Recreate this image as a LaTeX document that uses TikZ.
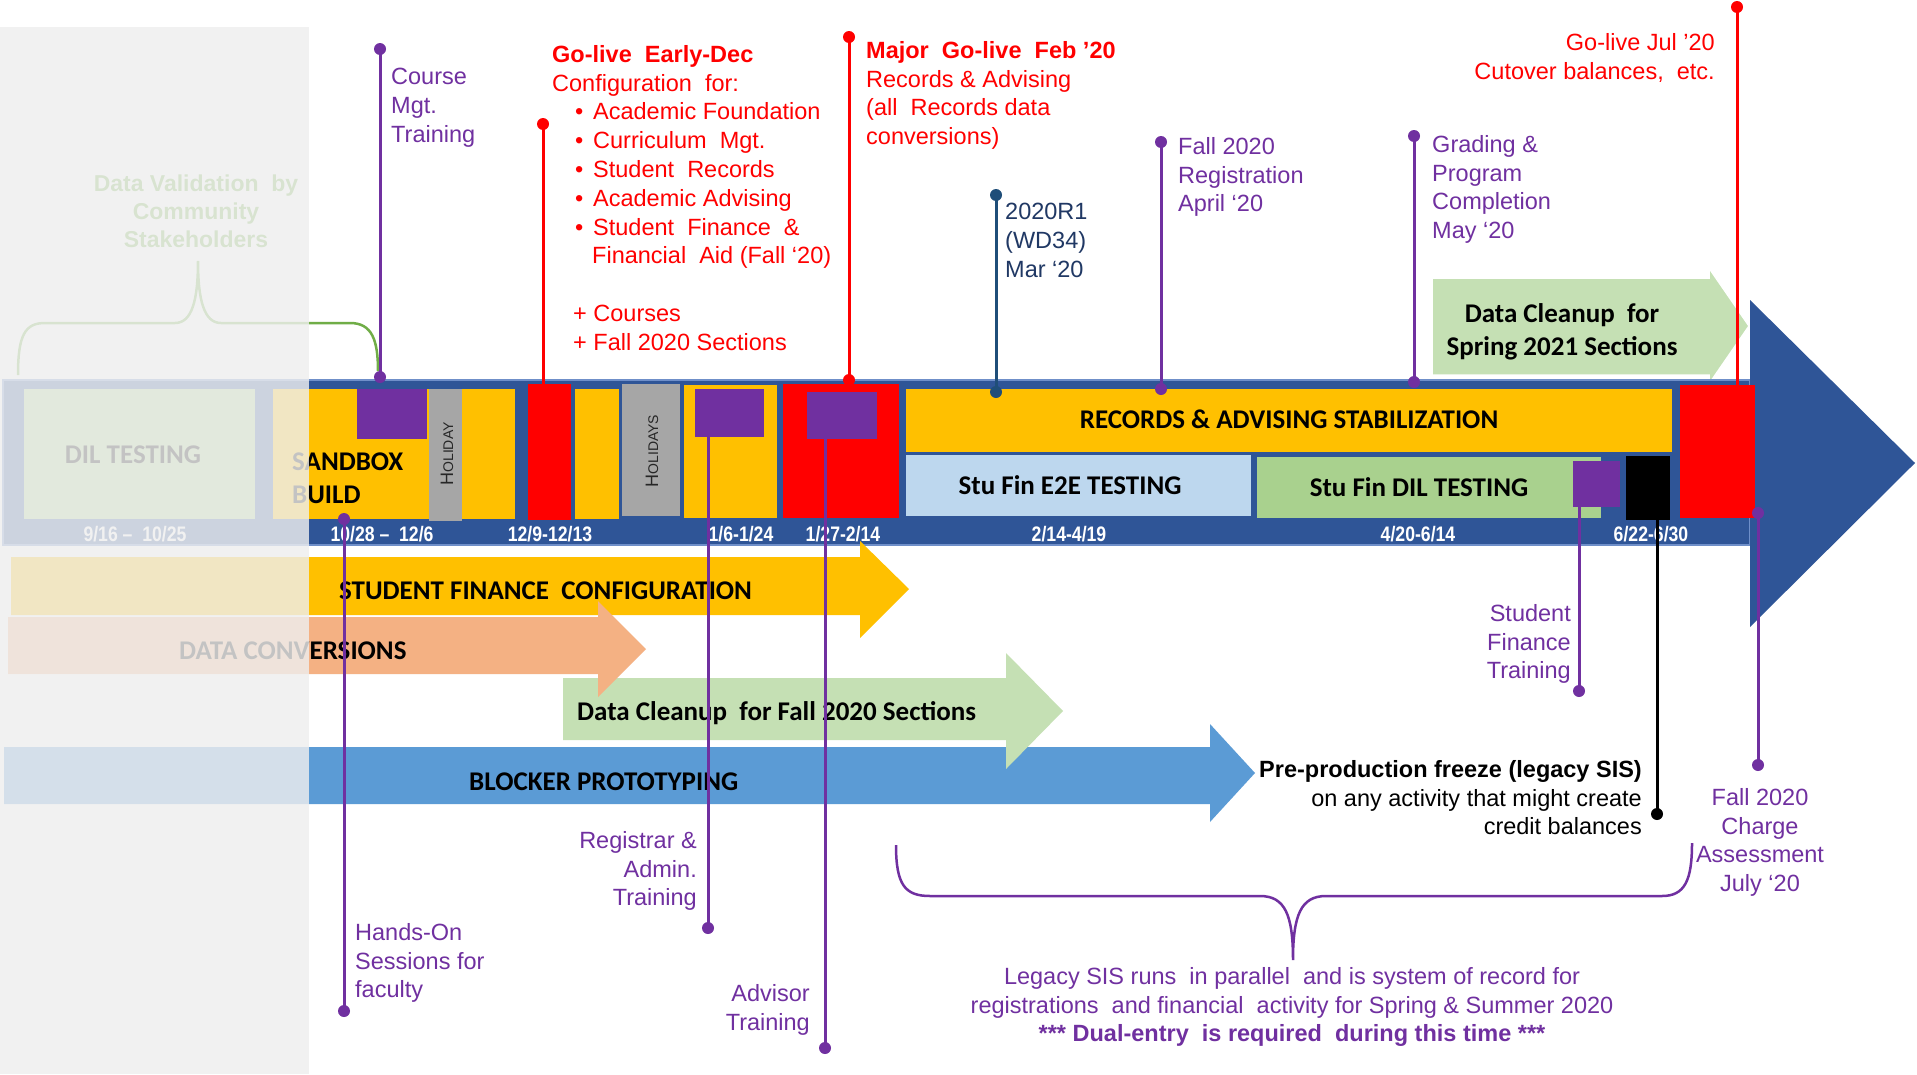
\documentclass[tikz,border=0pt]{standalone}
\usepackage{fontspec}
\setmainfont{Liberation Sans}
\newfontfamily\carlito{Carlito}
\newfontfamily\datefont[FakeStretch=0.84]{Liberation Sans}
\definecolor{band}{HTML}{2F5597}
\definecolor{bandedge}{HTML}{6F8FC9}
\definecolor{gold}{HTML}{FFC000}
\definecolor{pur}{HTML}{7030A0}
\definecolor{hol}{HTML}{A6A6A6}
\definecolor{ltblue}{HTML}{BDD7EE}
\definecolor{ltgreen}{HTML}{A9D18E}
\definecolor{cleanup}{HTML}{C5E0B4}
\definecolor{salmon}{HTML}{F4B183}
\definecolor{blocker}{HTML}{5B9BD5}
\definecolor{navy}{HTML}{1F4E79}
\definecolor{navytext}{HTML}{203864}
\definecolor{brgreen}{HTML}{70AD47}
\definecolor{fade}{HTML}{EFEFEF}
\definecolor{holtext}{HTML}{262626}
\newcommand{\mybul}{\hspace*{23pt}\makebox[18pt][l]{•}}
\begin{document}
\begin{tikzpicture}[x=1pt,y=-1pt,
  lbl/.style={font=\fontsize{23.5}{28.8}\selectfont, inner sep=0pt},
  plbl/.style={lbl, text=pur},
  barlbl/.style={font=\carlito\bfseries\fontsize{27}{33}\selectfont, inner sep=0pt},
  datelbl/.style={font=\datefont\bfseries\fontsize{21}{24}\selectfont, text=white, inner sep=0pt, anchor=base},
  pin/.style={line width=3pt},
  dot/.style={circle, inner sep=0pt, minimum size=12pt, fill},
  holl/.style={rotate=90, inner sep=0pt, text=holtext}]
\useasboundingbox (0,0) rectangle (1917,1074);
\fill[white] (0,0) rectangle (1917,1074);

% data validation brace
\draw[brgreen, line width=2.5pt] (18,375) .. controls (18,335) and (25,323) .. (45,323) -- (175,323)
  .. controls (192,323) and (198,300) .. (198,261) .. controls (198,300) and (204,323) .. (221,323)
  -- (350,323) .. controls (372,323) and (378,340) .. (378,371);
\node[lbl, font=\bfseries\fontsize{23}{28}\selectfont, text=brgreen, anchor=north, align=center] (dval) at (196,175) {Data Validation\ \ by\\Community\\Stakeholders};

% spring cleanup arrow
\fill[cleanup, draw=white, line width=1.5pt] (1432,278) -- (1709,278) -- (1709,268) -- (1749,326) -- (1709,384) -- (1709,375) -- (1432,375) -- cycle;
\node[barlbl, anchor=north, align=center] (spr) at (1562,303) {Data Cleanup\ \ for\\Spring 2021 Sections};

% timeline band
\fill[band, draw=bandedge, line width=1.2pt] (3,380) rectangle (1750,545);
\fill[band] (1750,300) -- (1915,463) -- (1750,627) -- cycle;

% band boxes
\fill[ltgreen] (24,389) rectangle (255,519);
\fill[gold] (273,389) rectangle (515,519);
\fill[pur] (357,389) rectangle (427,439);
\fill[hol] (429,389) rectangle (462,521);
\fill[red] (528,384) rectangle (571,520);
\fill[gold] (575,389) rectangle (619,519);
\fill[hol] (622,384) rectangle (680,516);
\fill[gold] (684,385) rectangle (777,518);
\fill[pur] (695,389) rectangle (764,437);
\fill[red] (783,384) rectangle (899,518);
\fill[pur] (807,392) rectangle (877,439);
\fill[gold] (906,389) rectangle (1672,452);
\fill[ltblue] (906,455) rectangle (1251,516);
\fill[ltgreen] (1257,457) rectangle (1601,518);
\fill[pur] (1573,461) rectangle (1620,507);
\fill[black] (1626,456) rectangle (1670,520);
\fill[red] (1680,385) rectangle (1755,518);

% band labels
\node[barlbl, anchor=base] (dil) at (133,463) {DIL TESTING};
\node[barlbl, anchor=north west, align=left] (sbx) at (292,453) {SANDBOX\\BUILD};
\node[holl] (hol1) at (447,454) {\fontsize{18}{18}\selectfont H\fontsize{14}{14}\selectfont OLIDAY};
\node[holl] (hol2) at (652,451) {\fontsize{18}{18}\selectfont H\fontsize{14}{14}\selectfont OLIDAYS};
\node[barlbl, anchor=base] (rec) at (1289,428) {RECORDS \& ADVISING STABILIZATION};
\node[barlbl, anchor=base] (e2e) at (1070,494) {Stu Fin E2E TESTING};
\node[barlbl, anchor=base] (sdil) at (1419,496) {Stu Fin DIL TESTING};

% dates
\node[datelbl] (d1) at (135,541) {9/16 –\ \ 10/25};
\node[datelbl] (d2) at (382,541) {10/28 –\ \ 12/6};
\node[datelbl] (d3) at (550,541) {12/9-12/13};
\node[datelbl] (d4) at (741,541) {1/6-1/24};
\node[datelbl] (d5) at (843,541) {1/27-2/14};
\node[datelbl] (d6) at (1069,541) {2/14-4/19};
\node[datelbl] (d7) at (1418,541) {4/20-6/14};
\node[datelbl] (d8) at (1651,541) {6/22-6/30};

% work-stream arrows
\fill[blocker] (4,747) -- (1210,747) -- (1210,724) -- (1255,773) -- (1210,822) -- (1210,804) -- (4,804) -- cycle;
\node[barlbl, anchor=base west] (blk) at (469,790) {BLOCKER PROTOTYPING};
\fill[cleanup] (563,678) -- (1006,678) -- (1006,653) -- (1063,711) -- (1006,769) -- (1006,740) -- (563,740) -- cycle;
\node[barlbl, anchor=base west] (fall) at (577,720) {Data Cleanup\ \ for Fall 2020 Sections};
\fill[gold] (11,557) -- (860,557) -- (860,541) -- (909,589) -- (860,638) -- (860,615) -- (11,615) -- cycle;
\node[barlbl, anchor=base west] (sfc) at (339,599) {STUDENT FINANCE\ \ CONFIGURATION};
\fill[salmon] (8,617) -- (598,617) -- (598,601) -- (646,649) -- (598,697) -- (598,674) -- (8,674) -- cycle;
\node[barlbl, anchor=base west] (dconv) at (179,659) {DATA CONVERSIONS};

% fade overlay on the past
\fill[fade, opacity=0.82] (0,27) rectangle (309,1074);

% milestones above the band
\node[dot, pur] (cm1) at (380,49) {};
\node[dot, pur] (cm2) at (380,377) {};
\draw[pin, pur] (cm1.center) -- (cm2.center);
\node[plbl, anchor=north west, align=left] (cmt) at (391,68) {Course\\Mgt.\\Training};

\node[dot, red] (ed1) at (543,124) {};
\coordinate (ed2) at (543,386);
\draw[pin, red] (ed1.center) -- (ed2);
\node[lbl, text=red, anchor=north west, align=left] (edt) at (552,45) {\textbf{Go-live\ \ Early-Dec}\\
Configuration\ \ for:\\
\mybul Academic Foundation\\
\mybul Curriculum\ \ Mgt.\\
\mybul Student\ \ Records\\
\mybul Academic Advising\\
\mybul Student\ \ Finance\ \ \&\\
\hspace*{40pt}Financial\ \ Aid (Fall ‘20)\\[28.8pt]
\hspace*{21pt}+ Courses\\
\hspace*{21pt}+ Fall 2020 Sections};

\node[dot, red] (mj1) at (849,37) {};
\node[dot, red] (mj2) at (849,380) {};
\draw[pin, red] (mj1.center) -- (mj2.center);
\node[lbl, text=red, anchor=north west, align=left] (mjt) at (866,41) {\textbf{Major\ \ Go-live\ \ Feb ’20}\\Records \& Advising\\(all\ \ Records data\\conversions)};

\node[dot, navy] (r1) at (996,195) {};
\node[dot, navy] (r2) at (996,392) {};
\draw[pin, navy] (r1.center) -- (r2.center);
\node[lbl, text=navytext, anchor=north west, align=left] (rt) at (1005,203) {2020R1\\(WD34)\\Mar ‘20};

\node[dot, pur] (fr1) at (1161,142) {};
\node[dot, pur] (fr2) at (1161,389) {};
\draw[pin, pur] (fr1.center) -- (fr2.center);
\node[plbl, anchor=north west, align=left] (frt) at (1178,137) {Fall 2020\\Registration\\April ‘20};

\node[dot, pur] (gr1) at (1414,136) {};
\node[dot, pur] (gr2) at (1414,382) {};
\draw[pin, pur] (gr1.center) -- (gr2.center);
\node[plbl, anchor=north west, align=left] (grt) at (1432,135) {Grading \&\\Program\\Completion\\May ‘20};

\node[dot, red] (jl1) at (1737,7) {};
\coordinate (jl2) at (1737,387);
\draw[pin, red] (jl1.center) -- (jl2);
\node[lbl, text=red, anchor=north east, align=right] (jlt) at (1715,33) {Go-live Jul ’20\\Cutover balances,\ \ etc.};

% milestones below the band
\node[dot, pur] (ho1) at (344,519) {};
\node[dot, pur] (ho2) at (344,1011) {};
\draw[pin, pur] (ho1.center) -- (ho2.center);
\node[plbl, anchor=north west, align=left] (hot) at (355,923) {Hands-On\\Sessions for\\faculty};

\coordinate (rg1) at (708,437);
\node[dot, pur] (rg2) at (708,928) {};
\draw[pin, pur] (rg1) -- (rg2.center);
\node[plbl, anchor=north east, align=right] (rgt) at (697,831) {Registrar \&\\Admin.\\Training};

\coordinate (ad1) at (825,439);
\node[dot, pur] (ad2) at (825,1048) {};
\draw[pin, pur] (ad1) -- (ad2.center);
\node[plbl, anchor=north east, align=right] (adt) at (810,984) {Advisor\\Training};

\coordinate (sf1) at (1579,507);
\node[dot, pur] (sf2) at (1579,691) {};
\draw[pin, pur] (sf1) -- (sf2.center);
\node[plbl, anchor=north east, align=right] (sft) at (1571,604) {Student\\Finance\\Training};

\coordinate (pp1) at (1657,520);
\node[dot, black] (pp2) at (1657,814) {};
\draw[pin, black] (pp1) -- (pp2.center);
\node[lbl, anchor=north east, align=right] (ppt) at (1642,760) {\textbf{Pre-production freeze (legacy SIS)}\\on any activity that might create\\credit balances};

\node[dot, pur] (fc1) at (1758,513) {};
\node[dot, pur] (fc2) at (1758,765) {};
\draw[pin, pur] (fc1.center) -- (fc2.center);
\node[plbl, anchor=north, align=center] (fct) at (1760,788) {Fall 2020\\Charge\\Assessment\\July ‘20};

% legacy brace
\draw[pur, line width=2.5pt] (896,845) .. controls (896,885) and (905,896) .. (930,896) -- (1260,896)
  .. controls (1285,896) and (1293,915) .. (1293,960) .. controls (1293,915) and (1301,896) .. (1326,896)
  -- (1662,896) .. controls (1685,896) and (1692,880) .. (1692,843);
\node[plbl, anchor=north, align=center] (leg) at (1292,967) {Legacy SIS runs\ \ in parallel\ \ and is system of record for\\registrations\ \ and financial\ \ activity for Spring \& Summer 2020\\\textbf{***\ Dual-entry\ \ is required\ \ during this time ***}};
\end{tikzpicture}
\end{document}
